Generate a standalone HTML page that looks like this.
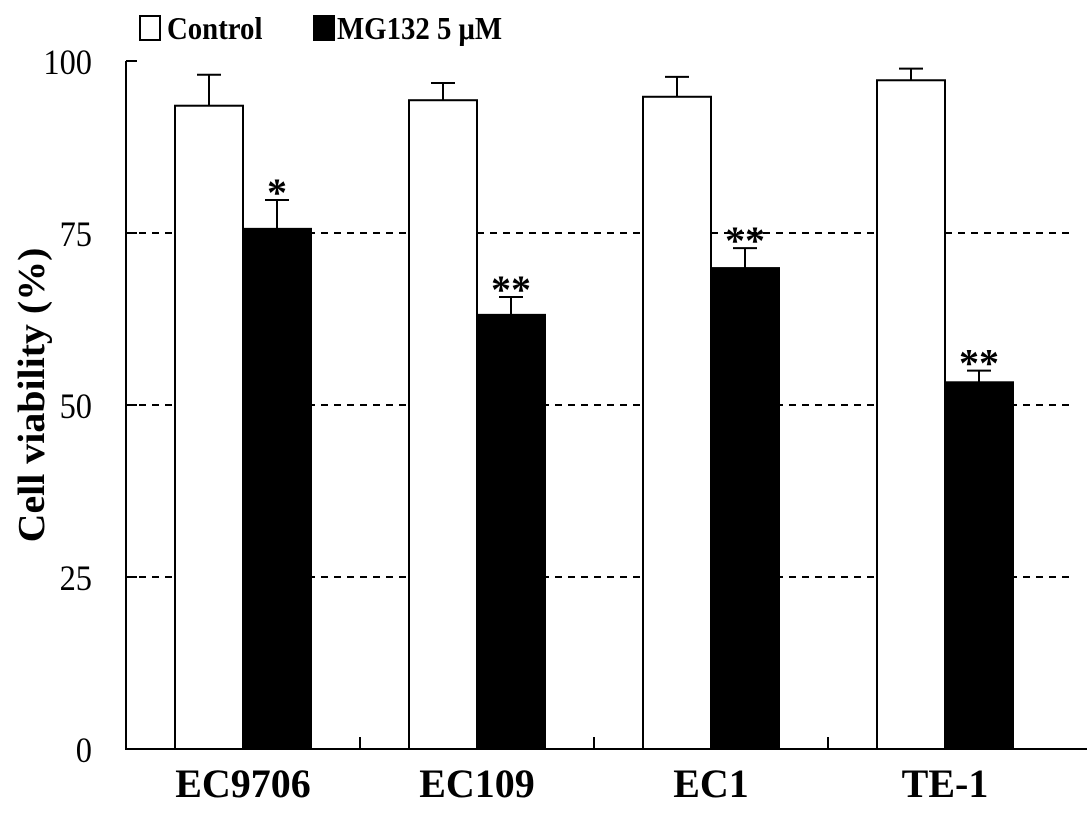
<!DOCTYPE html>
<html><head><meta charset="utf-8"><style>
body{margin:0;background:#fff}
svg text{font-family:"Liberation Serif",serif}
</style></head><body>
<svg id="c" width="1087" height="808">
<g id="g"></g>
</svg>
<script>
const categories=["EC9706","EC109","EC1","TE-1"];
const controlValues=[93.5,94.3,94.8,97.2];
const controlErr=[4.5,2.5,2.9,1.7];
const mgValues=[75.6,63.1,69.9,53.3];
const mgErr=[4.2,2.6,2.9,1.7];
const stars=["*","**","**","**"];
const yTicks=[0,25,50,75,100];
const X0=126,W=234,Y0=749,Y100=61,BW=68;
const y=v=>Y0-(Y0-Y100)*v/100;
const xc=i=>X0+W*(i+0.5);
const g=document.getElementById('g');
const NS="http://www.w3.org/2000/svg";
function mk(t,a,txt){const e=document.createElementNS(NS,t);for(const k in a)e.setAttribute(k,a[k]);if(txt!==undefined)e.textContent=txt;g.appendChild(e);return e;}
yTicks.forEach(t=>{
 if(t>0&&t<100){const l=mk('line',{x1:X0,x2:1075,y1:y(t),y2:y(t),stroke:'#000','stroke-width':2,'stroke-dasharray':'7,6'});
 }
 const tk=mk('line',{x1:X0,x2:X0+11,y1:y(t),y2:y(t),stroke:'#000','stroke-width':2});
 
 const lb=mk('text',{x:92,y:y(t)+13,'text-anchor':'end','font-size':36,transform:`translate(${92*0.1},0) scale(0.9,1)`},t);
 
});
categories.forEach((c,i)=>{
 const cx=xc(i);
 const e1=mk('line',{x1:cx-BW/2,x2:cx-BW/2,y1:y(controlValues[i]+controlErr[i]),y2:y(controlValues[i]),stroke:'#000','stroke-width':2});
 
 const e1c=mk('line',{x1:cx-BW/2-12,x2:cx-BW/2+12,y1:y(controlValues[i]+controlErr[i]),y2:y(controlValues[i]+controlErr[i]),stroke:'#000','stroke-width':2});
 
 const b1=mk('rect',{x:cx-BW,y:y(controlValues[i]),width:BW,height:Y0-y(controlValues[i]),fill:'#fff',stroke:'#000','stroke-width':2});
 
 const e2=mk('line',{x1:cx+BW/2,x2:cx+BW/2,y1:y(mgValues[i]+mgErr[i]),y2:y(mgValues[i]),stroke:'#000','stroke-width':2});
 
 const e2c=mk('line',{x1:cx+BW/2-12,x2:cx+BW/2+12,y1:y(mgValues[i]+mgErr[i]),y2:y(mgValues[i]+mgErr[i]),stroke:'#000','stroke-width':2});
 
 const b2=mk('rect',{x:cx,y:y(mgValues[i]),width:BW,height:Y0-y(mgValues[i]),fill:'#000',stroke:'#000','stroke-width':2});
 
 const s=mk('text',{x:cx+BW/2,y:y(mgValues[i]+mgErr[i])+6,'text-anchor':'middle','font-size':40,'font-weight':'bold'},stars[i]);
 
 const xl=mk('text',{x:cx,y:797,'text-anchor':'middle','font-size':40,'font-weight':'bold'},c);
 
 if(i<categories.length-1){const t=mk('line',{x1:X0+W*(i+1),x2:X0+W*(i+1),y1:Y0,y2:Y0-12,stroke:'#000','stroke-width':2});
 }
});
const ax=mk('path',{d:`M${X0},${Y100} V${Y0} H1087`,fill:'none',stroke:'#000','stroke-width':2});

const yt=mk('text',{x:0,y:0,transform:'translate(44,395) rotate(-90) scale(1.05,1)','text-anchor':'middle','font-size':38,'font-weight':'bold'},'Cell viability (%)');

const l1=mk('rect',{x:140,y:16,width:20,height:24,fill:'#fff',stroke:'#000','stroke-width':2});

const lt1=mk('text',{x:167,y:39,'font-size':32,'font-weight':'bold',transform:'translate(16.7,0) scale(0.9,1)'},'Control');

const l2=mk('rect',{x:313,y:15,width:22,height:26,fill:'#000'});

const lt2=mk('text',{x:337,y:39,'font-size':32,'font-weight':'bold','xml:space':'preserve',transform:'translate(33.7,0) scale(0.9,1)'},'MG132  5 μM');

</script>
</body></html>
